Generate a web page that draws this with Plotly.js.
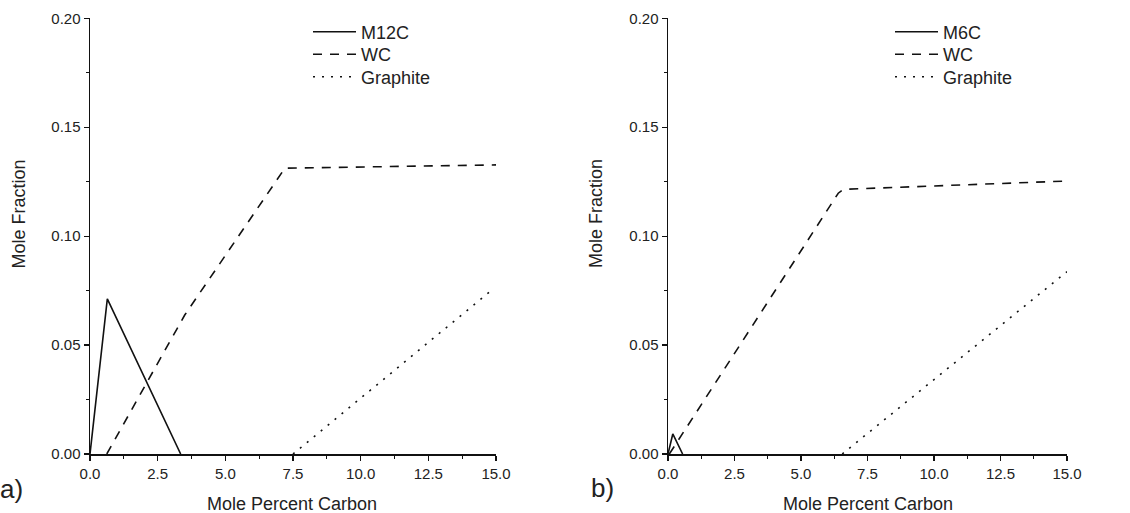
<!DOCTYPE html>
<html>
<head>
<meta charset="utf-8">
<script src="https://cdn.plot.ly/plotly-3.0.1.min.js"></script>
<style>html,body{margin:0;padding:0;background:#fff;}#chart{width:1130px;height:513px;}</style>
</head>
<body>
<div id="chart"></div>
<script>
// Panel a) data
const m12cX = [0, 0.64, 3.35];
const m12cY = [0, 0.0712, 0];
const wcAX = [0.62, 3.5, 7.2, 15];
const wcAY = [0, 0.0638, 0.1312, 0.1327];
const graphiteAX = [7.5, 14.8];
const graphiteAY = [0, 0.0748];
// Panel b) data
const m6cX = [0, 0.18, 0.55];
const m6cY = [0, 0.0092, 0];
const wcBX = [0.05, 6.4, 6.6, 15];
const wcBY = [0, 0.1197, 0.1215, 0.1253];
const graphiteBX = [6.55, 15];
const graphiteBY = [0, 0.0837];
// Labels
const xTitle = "Mole Percent Carbon";
const yTitle = "Mole Fraction";
const xTickVals = [0, 2.5, 5, 7.5, 10, 12.5, 15];
const yTickVals = [0, 0.05, 0.10, 0.15, 0.20];

const W = 1130, H = 513;
const px = x => x / W;
const py = y => 1 - y / H;

const FONT = "Liberation Sans, Arial, sans-serif";
const TXT = "#222";
const lineW = 1.6;

function tr(x, y, name, dash, xa, ya, leg) {
  return {x: x, y: y, name: name, type: "scatter", mode: "lines",
    line: {color: "#111", width: lineW, dash: dash},
    xaxis: xa, yaxis: ya, legend: leg, hoverinfo: "skip"};
}

const data = [
  tr(m12cX, m12cY, "M12C", "solid", "x", "y", "legend"),
  tr(wcAX, wcAY, "WC", "9px,8px", "x", "y", "legend2"),
  tr(graphiteAX, graphiteAY, "Graphite", "2px,7px", "x", "y", "legend3"),
  tr(m6cX, m6cY, "M6C", "solid", "x2", "y2", "legend4"),
  tr(wcBX, wcBY, "WC", "9px,8px", "x2", "y2", "legend5"),
  tr(graphiteBX, graphiteBY, "Graphite", "2px,7px", "x2", "y2", "legend6")
];

function xaxis(domain, anchor) {
  return {domain: domain, anchor: anchor, range: [0, 15], tickvals: xTickVals, tickformat: ".1f",
    showgrid: false, zeroline: false, showline: true, linecolor: "#111", linewidth: 1.5,
    ticks: "outside", ticklen: 5, tickwidth: 1.3, tickcolor: "#111",
    minor: {dtick: 1.25, ticks: "outside", ticklen: 3, tickwidth: 1.2, tickcolor: "#111", showgrid: false},
    tickfont: {family: FONT, size: 15, color: TXT}, fixedrange: true};
}
function yaxis(domain, anchor) {
  return {domain: domain, anchor: anchor, range: [0, 0.2], tickvals: yTickVals, tickformat: ".2f",
    showgrid: false, zeroline: false, showline: true, linecolor: "#111", linewidth: 1.5,
    ticks: "outside", ticklen: 5, tickwidth: 1.3, tickcolor: "#111",
    minor: {dtick: 0.025, ticks: "outside", ticklen: 3, tickwidth: 1.2, tickcolor: "#111", showgrid: false},
    tickfont: {family: FONT, size: 15, color: TXT}, fixedrange: true};
}

const yDom = [py(454), py(18.3)];
const legendStyle = (xPix, yPix) => ({x: px(xPix), y: py(yPix), xanchor: "left", yanchor: "middle",
  bgcolor: "rgba(0,0,0,0)", borderwidth: 0, font: {family: FONT, size: 18, color: TXT},
  itemwidth: 43, tracegroupgap: 0});

function ann(text, x, y, size, angle) {
  return {text: text, x: px(x), y: py(y), xref: "paper", yref: "paper", showarrow: false,
    xanchor: "center", yanchor: "middle", textangle: angle || 0,
    font: {family: FONT, size: size, color: TXT}};
}

const legA = 308, legB = 890;
const rowY = [32, 54.5, 77];

const layout = {
  width: W, height: H, margin: {l: 0, r: 0, t: 0, b: 0},
  paper_bgcolor: "#fff", plot_bgcolor: "#fff", showlegend: true,
  xaxis: xaxis([px(90), px(496)], "y"),
  yaxis: yaxis(yDom, "x"),
  xaxis2: xaxis([px(668), px(1067)], "y2"),
  yaxis2: yaxis(yDom, "x2"),
  legend: legendStyle(legA, rowY[0]),
  legend2: legendStyle(legA, rowY[1]),
  legend3: legendStyle(legA, rowY[2]),
  legend4: legendStyle(legB, rowY[0]),
  legend5: legendStyle(legB, rowY[1]),
  legend6: legendStyle(legB, rowY[2]),
  annotations: [
    ann(xTitle, 292, 504, 18),
    ann(xTitle, 868, 504, 18),
    ann(yTitle, 18.5, 214, 18, -90),
    ann(yTitle, 596, 214, 18, -90),
    ann("a)", 11, 489, 26),
    ann("b)", 602, 488, 26)
  ]
};

Plotly.newPlot("chart", data, layout, {displayModeBar: false, staticPlot: true});
</script>
</body>
</html>
